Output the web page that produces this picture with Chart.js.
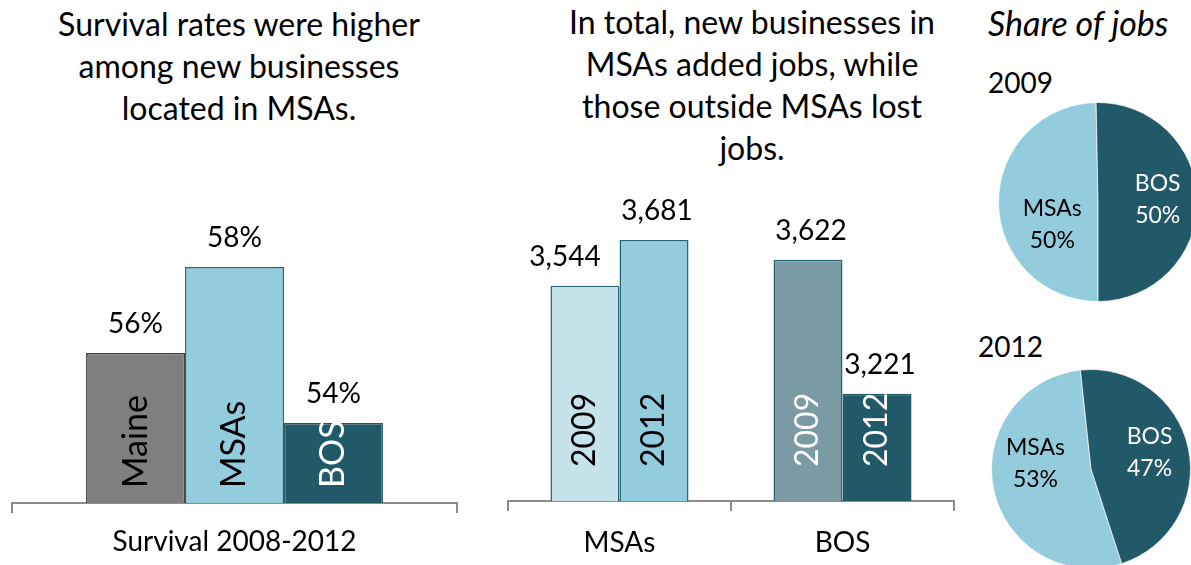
<!DOCTYPE html>
<html><head><meta charset="utf-8">
<script src="https://cdn.jsdelivr.net/npm/chart.js@4"></script>
<style>
body{margin:0;width:1191px;height:565px;overflow:hidden;background:#fff;font-family:Lato,sans-serif;position:relative;}
.t{position:absolute;text-align:center;color:#000;font-size:32px;line-height:42px;white-space:nowrap;}
canvas{position:absolute;}
</style></head><body>
<div class="t" style="left:-11px;top:3px;width:500px;">Survival rates were higher<br>among new businesses<br>located in MSAs.</div>
<div class="t" style="left:502px;top:1px;width:500px;">In total, new businesses in<br>MSAs added jobs, while<br>those outside MSAs lost<br>jobs.</div>
<div class="t" style="left:988px;top:2px;font-size:34px;font-style:italic;text-align:left;">Share of jobs</div>
<div class="t" style="left:988px;top:61px;font-size:28px;text-align:left;">2009</div>
<div class="t" style="left:978px;top:325px;font-size:28px;text-align:left;">2012</div>
<canvas id="c1" width="480" height="565" style="left:0;top:0"></canvas>
<canvas id="c2" width="480" height="565" style="left:490px;top:0"></canvas>
<canvas id="p1" width="216" height="216" style="left:990px;top:94px"></canvas>
<canvas id="p2" width="216" height="216" style="left:983px;top:361px"></canvas>
<script>
// ---- data ----
const survivalCategories = ['Survival 2008-2012'];
const survivalSeries = ['Maine', 'MSAs', 'BOS'];
const survivalValues = [55.75, 57.9, 54.0];

const jobsCategories = ['MSAs', 'BOS'];
const jobsYears = ['2009', '2012'];
const jobs2009 = [3544, 3622];
const jobs2012 = [3681, 3221];

const shareLabels = ['MSAs', 'BOS'];
const share2009 = [49.7, 50.3];
const share2012 = [53.3, 46.7];

// ---- styles ----
const FONT = 'Lato, sans-serif';
const AXIS_GRAY = '#8c8c8c';

const innerColors = {};

const barLabelPlugin = {
  id: 'barLabels',
  afterDatasetsDraw(chart, args, opts) {
    const ctx = chart.ctx;
    const baseY = chart.chartArea.bottom;
    const cfg = chart.$barCfg;
    chart.data.datasets.forEach((ds, di) => {
      const meta = chart.getDatasetMeta(di);
      meta.data.forEach((bar, i) => {
        const x = bar.x, y = bar.y;
        const off = cfg.valueOffsets[di][i];
        ctx.save();
        ctx.font = cfg.valueFont;
        ctx.fillStyle = '#000';
        ctx.textAlign = 'center';
        ctx.textBaseline = 'alphabetic';
        ctx.fillText(cfg.format(ds.data[i]), x + off + cfg.valueDx, y - cfg.valueGap);
        ctx.restore();

        ctx.save();
        ctx.translate(x, baseY - cfg.innerGap);
        ctx.rotate(-Math.PI / 2);
        ctx.font = cfg.innerFont;
        ctx.fillStyle = cfg.innerColors[di][i];
        ctx.textAlign = 'left';
        ctx.textBaseline = 'middle';
        ctx.fillText(String(ds.label), 0, 0);
        ctx.restore();
      });
    });
  }
};

function xAxis(height, pad) {
  return {
    offset: true,
    grid: { offset: true, drawOnChartArea: false, drawTicks: true, tickLength: 10, color: AXIS_GRAY, lineWidth: 2 },
    border: { display: true, color: AXIS_GRAY, width: 2 },
    ticks: { color: '#000', font: { family: FONT, size: 28 }, padding: pad, maxRotation: 0 },
    afterFit: (s) => { s.height = height; }
  };
}

const c1 = new Chart(document.getElementById('c1'), {
  type: 'bar',
  data: {
    labels: survivalCategories,
    datasets: [
      { label: survivalSeries[0], data: [survivalValues[0]], backgroundColor: '#7f7f7f', borderColor: '#3f3f3f' },
      { label: survivalSeries[1], data: [survivalValues[1]], backgroundColor: '#93cddd', borderColor: '#2a6576' },
      { label: survivalSeries[2], data: [survivalValues[2]], backgroundColor: '#215968', borderColor: '#215968' }
    ]
  },
  options: {
    responsive: false, animation: false,
    layout: { padding: { left: 12, right: 23, top: 103, bottom: 0 } },
    datasets: { bar: { categoryPercentage: 0.667, barPercentage: 1, borderWidth: 1.5 } },
    scales: {
      x: xAxis(62, 12),
      y: { display: false, min: 52, max: 62 }
    },
    plugins: { legend: { display: false }, tooltip: { enabled: false } }
  },
  plugins: [{
    id: 'cfg1',
    beforeInit(chart) {
      chart.$barCfg = {
        valueFont: '28px ' + FONT, innerFont: '34px ' + FONT,
        valueGap: 20, innerGap: 15, valueDx: 0,
        valueOffsets: [[0], [0], [0]],
        innerColors: [['#000'], ['#000'], ['#fff']],
        format: (v) => Math.round(v) + '%'
      };
    }
  }, barLabelPlugin]
});

new Chart(document.getElementById('c2'), {
  type: 'bar',
  data: {
    labels: jobsCategories,
    datasets: [
      { label: jobsYears[0], data: jobs2009, backgroundColor: ['#c6e3ec', '#7a9ba4'], borderColor: ['#2a6576', '#2a6576'] },
      { label: jobsYears[1], data: jobs2012, backgroundColor: ['#93cddd', '#215968'], borderColor: ['#2a6576', '#215968'] }
    ]
  },
  options: {
    responsive: false, animation: false,
    layout: { padding: { left: 18, right: 16, top: 100, bottom: 0 } },
    datasets: { bar: { categoryPercentage: 0.619, barPercentage: 1, borderWidth: 1.5 } },
    scales: {
      x: xAxis(64, 15),
      y: { display: false, min: 2900, max: 4100 }
    },
    plugins: { legend: { display: false }, tooltip: { enabled: false } }
  },
  plugins: [{
    id: 'cfg2',
    beforeInit(chart) {
      chart.$barCfg = {
        valueFont: '28px ' + FONT, innerFont: '32px ' + FONT,
        valueGap: 20, innerGap: 34, valueDx: 3,
        valueOffsets: [[-23, 0], [0, 0]],
        innerColors: [['#000', '#fff'], ['#000', '#fff']],
        format: (v) => v.toLocaleString('en-US')
      };
    }
  }, barLabelPlugin]
});

const pieLabelPlugin = {
  id: 'pieLabels',
  afterDatasetsDraw(chart) {
    const ctx = chart.ctx;
    const cfg = chart.$pieCfg;
    const ds = chart.data.datasets[0];
    const meta = chart.getDatasetMeta(0);
    meta.data.forEach((arc, i) => {
      const mid = (arc.startAngle + arc.endAngle) / 2;
      const r = arc.outerRadius * 0.55;
      const o = cfg.offsets[i];
      const cx = arc.x + Math.cos(mid) * r + o[0];
      const cy = arc.y + Math.sin(mid) * r + o[1];
      ctx.save();
      ctx.font = cfg.font;
      ctx.fillStyle = cfg.colors[i];
      ctx.textAlign = 'center';
      ctx.textBaseline = 'middle';
      ctx.fillText(chart.data.labels[i], cx, cy - cfg.lineGap / 2);
      ctx.fillText(Math.round(ds.data[i]) + '%', cx, cy + cfg.lineGap / 2);
      ctx.restore();
    });
  }
};

function pie(id, data, rotation, offsets) {
  new Chart(document.getElementById(id), {
    type: 'pie',
    data: { labels: shareLabels, datasets: [{ data: data, backgroundColor: ['#93cddd', '#215968'], borderColor: 'rgba(255,255,255,0.7)', borderWidth: 1 }] },
    options: {
      responsive: false, animation: false, rotation: rotation,
      layout: { padding: 8 },
      plugins: { legend: { display: false }, tooltip: { enabled: false } }
    },
    plugins: [{
      id: 'pcfg',
      beforeInit(chart) {
        chart.$pieCfg = { font: '23px ' + FONT, colors: ['#000', '#fff'], lineGap: 32, offsets: offsets };
      }
    }, pieLabelPlugin]
  });
}
pie('p1', share2009, 180, [[9, 22], [5, -2]]);
pie('p2', share2012, 162, [[-2, -17], [5, -5]]);
</script>
</body></html>
